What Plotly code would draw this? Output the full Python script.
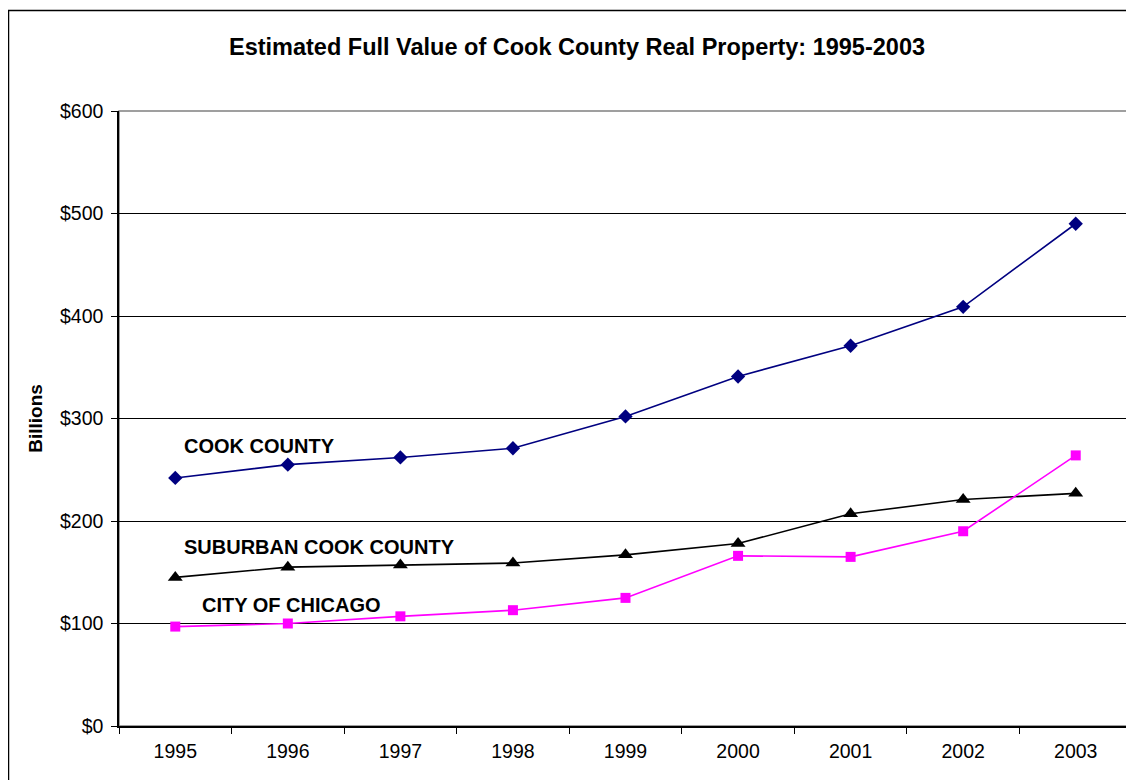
import plotly.graph_objects as go

years = ["1995", "1996", "1997", "1998", "1999", "2000", "2001", "2002", "2003"]
cook_county = [242, 255, 262, 271, 302, 341, 371, 409, 490]
suburban = [145, 155, 157, 159, 167, 178, 207, 221, 227]
chicago = [97, 100, 107, 113, 125, 166, 165, 190, 264]
y_ticks = [0, 100, 200, 300, 400, 500, 600]
y_tick_labels = ["$0", "$100", "$200", "$300", "$400", "$500", "$600"]

FONT = "Arial, Liberation Sans, sans-serif"

# figure is placed by the page at an 8px offset
W, H = 1126, 772
L, R, T, B = 111, 2, 103, 54
PW, PH = W - L - R, H - T - B

fig = go.Figure()
fig.add_trace(go.Scatter(x=years, y=cook_county, mode="lines+markers", name="Cook County",
                         line=dict(color="#000080", width=1.6),
                         marker=dict(symbol="diamond", size=11, color="#000080")))
fig.add_trace(go.Scatter(x=years, y=suburban, mode="lines+markers", name="Suburban Cook County",
                         line=dict(color="#000000", width=1.6),
                         marker=dict(symbol="triangle-up", size=13, color="#000000")))
fig.add_trace(go.Scatter(x=years, y=chicago, mode="lines+markers", name="City of Chicago",
                         line=dict(color="#FF00FF", width=1.6),
                         marker=dict(symbol="square", size=10, color="#FF00FF")))

labels = [("COOK COUNTY", 0.06, 273), ("SUBURBAN COOK COUNTY", 0.06, 175), ("CITY OF CHICAGO", 0.22, 118)]
for text, xi, yv in labels:
    fig.add_annotation(x=xi, y=yv, xref="x", yref="y", text=f"<b>{text}</b>", showarrow=False,
                       xanchor="left", yanchor="middle",
                       font=dict(family=FONT, size=20, color="#000000"))

fig.update_layout(
    width=W, height=H,
    margin=dict(l=L, r=R, t=T, b=B),
    paper_bgcolor="white", plot_bgcolor="white",
    showlegend=False,
    title=dict(text="<b>Estimated Full Value of Cook County Real Property: 1995-2003</b>",
               x=569 / W, xanchor="center", y=1 - 39 / H, yanchor="middle",
               font=dict(family=FONT, size=23.5, color="#000000")),
    font=dict(family=FONT, color="#000000"),
    xaxis=dict(type="category", range=[-0.5, 8.5], tickson="boundaries", ticks="outside",
               ticklen=6, tickcolor="#000000", showline=True, linecolor="#000000", linewidth=1.5,
               showgrid=False, ticklabelstandoff=7,
               tickfont=dict(family=FONT, size=19.5, color="#000000")),
    yaxis=dict(range=[0, 600], tickvals=y_ticks, ticktext=y_tick_labels, ticks="outside",
               ticklen=6, tickcolor="#000000", showline=True, linecolor="#000000", linewidth=1.5,
               showgrid=True, gridcolor="#000000", gridwidth=1, zeroline=False,
               ticklabelstandoff=4,
               tickfont=dict(family=FONT, size=19.5, color="#000000"),
               title=dict(text="<b>Billions</b>", font=dict(family=FONT, size=19, color="#000000"),
                          standoff=12)),
    shapes=[
        dict(type="rect", xref="paper", yref="paper", x0=0, x1=1, y0=0, y1=1,
             line=dict(color="#808080", width=1.5), layer="below"),
        dict(type="rect", xref="paper", yref="paper",
             x0=(0.5 - L) / PW, x1=(W + 20 - L) / PW,
             y0=(T + PH - (H + 20)) / PH, y1=(T + PH - 2.5) / PH,
             line=dict(color="#000000", width=1.5), layer="above"),
    ],
)

fig.write_html("out.html")
